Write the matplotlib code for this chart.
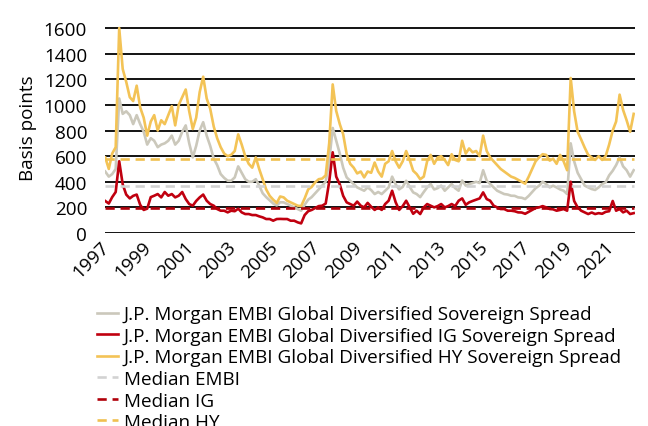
import numpy as np
import pandas as pd
import matplotlib
matplotlib.use("Agg")
import matplotlib.pyplot as plt
import matplotlib.dates as mdates

plt.rcParams['font.family'] = ['Open Sans', 'DejaVu Sans']

# bimonthly observations, Dec 1997 .. Feb 2023
dates = pd.date_range("1997-12-01", periods=152, freq="2MS")

embi = [480, 440, 460, 500, 1050, 930, 950, 920, 850, 920,
        850, 790, 690, 740, 720, 670, 690, 700, 720, 760,
        690, 720, 790, 840, 700, 590, 680, 800, 865, 760,
        680, 580, 530, 460, 430, 408, 408, 434, 520, 470,
        420, 400, 400, 420, 370, 310, 280, 255, 230, 215,
        240, 239, 226, 213, 200, 187, 174, 220, 260, 280,
        310, 340, 370, 400, 560, 820, 720, 620, 510, 434,
        408, 382, 356, 343, 330, 356, 335, 304, 320, 304,
        330, 356, 440, 380, 340, 360, 408, 360, 317, 304,
        280, 320, 356, 382, 340, 350, 370, 330, 356, 382,
        350, 330, 410, 370, 382, 390, 400, 390, 490, 408,
        382, 356, 330, 317, 304, 300, 291, 290, 278, 275,
        265, 290, 320, 350, 369, 400, 382, 356, 369, 356,
        340, 330, 304, 700, 560, 470, 420, 370, 356, 343,
        336, 356, 382, 395, 450, 486, 530, 589, 520, 490, 440, 490]

ig = [250, 230, 280, 320, 560, 380, 300, 270, 290, 300,
      220, 180, 190, 280, 291, 304, 278, 320, 291, 304,
      278, 291, 320, 265, 226, 213, 250, 278, 300, 252,
      226, 213, 187, 174, 174, 161, 174, 170, 190, 161,
      148, 148, 140, 140, 130, 122, 109, 109, 96, 109,
      110, 109, 109, 96, 96, 83, 75, 140, 170, 180,
      195, 210, 213, 230, 400, 630, 440, 380, 290, 239,
      226, 213, 245, 213, 200, 235, 205, 180, 200, 180,
      226, 252, 330, 240, 180, 210, 252, 200, 150, 174,
      148, 200, 226, 213, 200, 210, 226, 200, 210, 226,
      210, 252, 270, 220, 239, 250, 260, 270, 317, 265,
      252, 213, 200, 187, 187, 174, 174, 170, 161, 160,
      150, 165, 180, 195, 200, 210, 200, 187, 185, 174,
      180, 187, 174, 400, 250, 200, 174, 161, 148, 160,
      148, 155, 150, 165, 170, 250, 174, 187, 161, 174, 148, 155]

hy = [590, 500, 620, 670, 1600, 1280, 1180, 1060, 1030, 1150,
      980, 900, 760, 870, 920, 800, 880, 850, 920, 990,
      840, 1000, 1060, 1120, 950, 812, 900, 1100, 1220, 1050,
      970, 830, 740, 670, 620, 600, 610, 640, 770, 690,
      600, 540, 510, 590, 500, 420, 340, 290, 260, 235,
      285, 278, 252, 239, 226, 213, 210, 270, 340, 360,
      395, 420, 425, 450, 700, 1160, 953, 850, 771, 615,
      540, 510, 465, 480, 434, 480, 470, 550, 480, 440,
      540, 560, 640, 560, 510, 560, 640, 570, 486, 460,
      420, 440, 560, 610, 540, 590, 600, 570, 530, 615,
      570, 560, 720, 620, 660, 630, 640, 600, 760, 640,
      590, 560, 530, 500, 480, 460, 440, 430, 415, 400,
      385, 440, 500, 560, 590, 615, 610, 565, 580, 540,
      610, 560, 490, 1210, 950, 790, 730, 667, 610, 590,
      570, 600, 570, 600, 690, 800, 870, 1080, 960, 880, 790, 930]

median_embi = 365
median_ig = 195
median_hy = 580

labels = ["J.P. Morgan EMBI Global Diversified Sovereign Spread",
          "J.P. Morgan EMBI Global Diversified IG Sovereign Spread",
          "J.P. Morgan EMBI Global Diversified HY Sovereign Spread",
          "Median EMBI", "Median IG", "Median HY"]

c_embi = "#CBC8BB"
c_ig = "#C0000F"
c_hy = "#F3C356"

fs = 13.6

fig = plt.figure(figsize=(6.48, 4.27), dpi=100)
ax = fig.add_axes([0.1624, 0.452, 0.818, 0.495])

lw = 1.9
ax.plot(dates, embi, color=c_embi, lw=lw, label=labels[0], zorder=3)
ax.plot(dates, ig, color=c_ig, lw=lw, label=labels[1], zorder=4)
ax.plot(dates, hy, color=c_hy, lw=lw, label=labels[2], zorder=3.5)

dash = (0, (3.5, 2.2))
ax.plot(dates, [median_embi] * len(dates), color="#D2D2D2", lw=lw,
        ls=dash, label=labels[3], zorder=5)
ax.plot(dates, [median_ig] * len(dates), color="#B0000A", lw=lw,
        ls=dash, label=labels[4], zorder=5)
ax.plot(dates, [median_hy] * len(dates), color="#F0C050", lw=lw,
        ls=dash, label=labels[5], zorder=5)

ax.set_ylim(0, 1650)
ax.set_yticks(range(0, 1601, 200))
ax.set_xlim(pd.Timestamp("1997-12-01"), pd.Timestamp("2023-03-01"))
ax.set_xticks(pd.date_range("1997-12-31", "2021-12-31", freq="2YE"))
ax.xaxis.set_major_formatter(mdates.DateFormatter("%Y"))

ax.grid(axis="y", color="black", lw=1.3, zorder=1)
ax.set_axisbelow(True)
for s in ax.spines.values():
    s.set_visible(False)

ax.tick_params(axis="y", length=0, pad=13, labelsize=fs)
ax.tick_params(axis="x", length=0, pad=8, labelsize=fs)
for lab in ax.get_xticklabels():
    lab.set_rotation(45)
    lab.set_ha("right")
    lab.set_va("center")
    lab.set_rotation_mode("anchor")

ax.set_ylabel("Basis points", fontsize=fs, labelpad=5)

fig.legend(loc="upper left", bbox_to_anchor=(0.150, 0.283), frameon=False,
           fontsize=fs, handlelength=1.1, handletextpad=0.3,
           labelspacing=0.19, borderaxespad=0, borderpad=0)

fig.savefig("out.png", dpi=100)
